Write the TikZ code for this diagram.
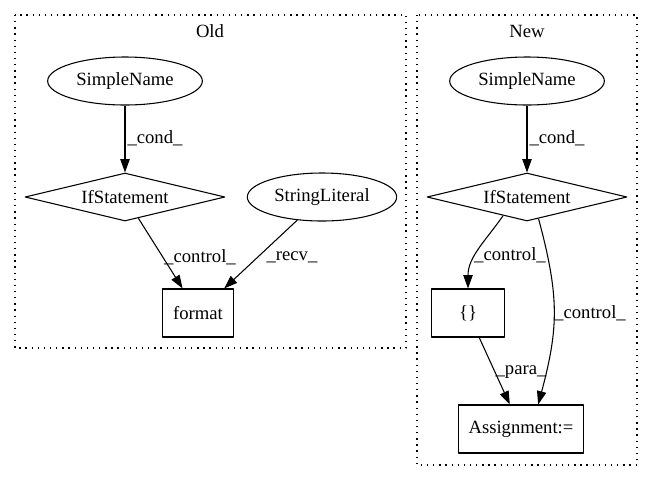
\documentclass[tikz,border=0pt]{standalone}
\usepackage{fontspec}
\setmainfont{Liberation Serif}
\usetikzlibrary{shapes.geometric,arrows.meta}
\tikzset{
	ell/.style={draw,ellipse,inner sep=0pt,minimum width=116pt,minimum height=36pt},
	cond/.style={draw,diamond,aspect=4.2,inner sep=0pt,minimum width=150pt,minimum height=36pt},
	box/.style={draw,rectangle,inner sep=0pt,minimum height=36pt},
	lbl/.style={inner sep=0pt},
	clus/.style={line cap=butt,dash pattern=on 1pt off 3.6pt}
}
\begin{document}
\begin{tikzpicture}[>={Triangle[length=10pt,width=7pt]},line join=round,font=\fontsize{14}{16}\selectfont,x=0.75pt,y=-0.75pt,line width=0.8pt]
			\useasboundingbox (0,0) rectangle (652,480);
			% clusters
			\draw[clus] (15,15) rectangle (406,348);
			\draw[clus] (417,15) rectangle (637,465);
			\node[lbl] (oldt) at (210,31) {Old};
			\node[lbl] (newt) at (527,31) {New};
			% old
			\node[ell] (osn) at (125,81) {SimpleName};
			\node[cond] (oif) at (125,197) {IfStatement};
			\node[ell,minimum width=112pt] (ostr) at (322,197) {StringLiteral};
			\node[box,minimum width=53pt] (ofmt) at (198,313) {format};
			\draw[->] (osn)--(oif);
			\draw[->] (oif)--(ofmt);
			\draw[->] (ostr)--(ofmt);
			\node[lbl,anchor=west] (oc) at (127,138) {\_cond\_};
			\node[lbl] (octl) at (200,257) {\_control\_};
			\node[lbl] (orcv) at (292,257) {\_recv\_};
			% new
			\node[ell] (nsn) at (527,81) {SimpleName};
			\node[cond] (nif) at (527,197) {IfStatement};
			\node[box,minimum width=55pt] (nbr) at (468,313) {\{\}};
			\node[box,minimum width=94pt] (nasg) at (521,429) {Assignment:=};
			\draw[->] (nsn)--(nif);
			\draw[->] (nif.218) to[out=-125,in=90] (nbr.north);
			\draw[->] (nif.298) to[out=-75,in=75,looseness=1.1] (nasg.55);
			\draw[->] (nbr)--(nasg);
			\node[lbl,anchor=west] (nc) at (529,138) {\_cond\_};
			\node[lbl] (nctl) at (510,255) {\_control\_};
			\node[lbl] (nctr) at (590,313) {\_control\_};
			\node[lbl] (npa) at (521,372) {\_para\_};
	\end{tikzpicture}
\end{document}
